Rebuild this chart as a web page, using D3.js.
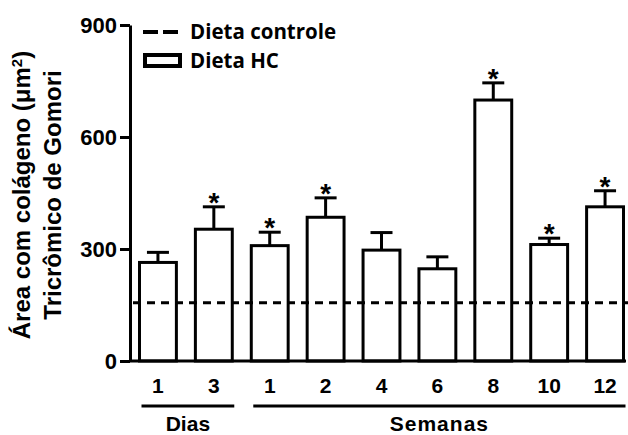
<!DOCTYPE html>
<html>
<head>
<meta charset="utf-8">
<script src="https://cdn.jsdelivr.net/npm/d3@7"></script>
<style>
  body { margin: 0; background: #fff; }
</style>
</head>
<body>
<div id="chart"></div>
<script>
// groups (x labels) and values
const labels = ["1", "3", "1", "2", "4", "6", "8", "10", "12"];
const groups = ["Dias", "Dias", "Semanas", "Semanas", "Semanas", "Semanas", "Semanas", "Semanas", "Semanas"];
const means = [264, 353, 309, 385, 297, 247, 699, 312, 413];
const sems = [27, 60, 36, 52, 47, 32, 46, 17, 43];
const signif = [false, true, true, true, false, false, true, true, true];
const controlValue = 156;
const yTicks = [0, 300, 600, 900];

const width = 628, height = 435;
const FONT = "'Liberation Sans', Arial, Helvetica, sans-serif";
const LEGEND_FONT = "'Open Sans', 'Noto Sans', sans-serif";

const svg = d3.select("#chart").append("svg")
    .attr("width", width)
    .attr("height", height);

const x = d3.scaleBand()
    .domain(d3.range(labels.length))
    .range([130, 633])
    .paddingInner(0.34)
    .paddingOuter(0.17);

const y = d3.scaleLinear()
    .domain([0, 900])
    .range([361, 25]);

// bars
svg.append("g").selectAll("rect")
    .data(means)
  .enter().append("rect")
    .attr("x", (d, i) => x(i))
    .attr("y", d => y(d))
    .attr("width", x.bandwidth())
    .attr("height", d => y(0) - y(d))
    .attr("fill", "#fff")
    .attr("stroke", "#000")
    .attr("stroke-width", 3);

// error bars (upper only)
const err = svg.append("g").attr("stroke", "#000").attr("stroke-width", 3);
means.forEach((m, i) => {
    let cx = x(i) + x.bandwidth() / 2;
    err.append("line")
        .attr("x1", cx).attr("x2", cx)
        .attr("y1", y(m)).attr("y2", y(m + sems[i]));
    err.append("line")
        .attr("x1", cx - 11).attr("x2", cx + 11)
        .attr("y1", y(m + sems[i])).attr("y2", y(m + sems[i]));
});

// asterisks
svg.append("g").selectAll("text")
    .data(means.map((m, i) => ({m, i})).filter(d => signif[d.i]))
  .enter().append("text")
    .attr("x", d => x(d.i) + x.bandwidth() / 2)
    .attr("y", d => y(d.m + sems[d.i]) + 5)
    .attr("text-anchor", "middle")
    .style("font-family", FONT)
    .style("font-weight", "bold")
    .style("font-size", "28px")
    .text("*");

// control diet line
svg.append("line")
    .attr("x1", 133).attr("x2", width)
    .attr("y1", y(controlValue)).attr("y2", y(controlValue))
    .attr("stroke", "#000")
    .attr("stroke-width", 3)
    .attr("stroke-dasharray", "8,6");

// y axis
const yAxis = svg.append("g")
    .attr("transform", "translate(130,0)")
    .call(d3.axisLeft(y).tickValues(yTicks).tickSize(10).tickPadding(3).tickSizeOuter(0));
yAxis.select(".domain").attr("stroke-width", 3);
yAxis.selectAll(".tick line").attr("stroke-width", 3);
yAxis.selectAll("text")
    .style("font-family", FONT)
    .style("font-weight", "bold")
    .style("font-size", "22px")
    .attr("fill", "#000");

// x axis
const xAxis = svg.append("g")
    .attr("transform", "translate(0,361)")
    .call(d3.axisBottom(x).tickFormat(i => labels[i]).tickSize(0).tickPadding(17));
xAxis.select(".domain").attr("d", "M130,0H626").attr("stroke-width", 3);
xAxis.selectAll("text")
    .style("font-family", FONT)
    .style("font-weight", "bold")
    .style("font-size", "21px")
    .attr("fill", "#000");

// group brackets under the x labels
const groupNames = Array.from(new Set(groups));
groupNames.forEach(g => {
    let idx = d3.range(labels.length).filter(i => groups[i] === g);
    let x0 = x(idx[0]) + 2, x1 = x(idx[idx.length - 1]) + x.bandwidth() + 2;
    svg.append("line")
        .attr("x1", x0).attr("x2", x1)
        .attr("y1", 406).attr("y2", 406)
        .attr("stroke", "#000").attr("stroke-width", 3);
    svg.append("text")
        .attr("x", (x0 + x1) / 2)
        .attr("y", 431)
        .attr("text-anchor", "middle")
        .style("font-family", FONT)
        .style("font-weight", "bold")
        .style("font-size", "21px")
        .style("letter-spacing", g === "Semanas" ? "1px" : "0px")
        .text(g);
});

// y axis title, two lines
const title = svg.append("g")
    .attr("transform", "translate(0,195) rotate(-90)")
    .style("font-family", FONT)
    .style("font-weight", "bold")
    .style("font-size", "24px");
const t1 = title.append("text")
    .attr("x", 0).attr("y", 30)
    .attr("text-anchor", "middle");
t1.append("tspan").text("Área com colágeno (μm");
t1.append("tspan").attr("baseline-shift", "super").style("font-size", "15px").text("2");
t1.append("tspan").text(")");
title.append("text")
    .attr("x", 0).attr("y", 61)
    .attr("text-anchor", "middle")
    .text("Tricrômico de Gomori");

// legend
const legend = svg.append("g")
    .style("font-family", LEGEND_FONT)
    .style("font-weight", "bold")
    .style("font-size", "20.5px");
legend.append("line")
    .attr("x1", 143).attr("x2", 179)
    .attr("y1", 32).attr("y2", 32)
    .attr("stroke", "#000").attr("stroke-width", 4)
    .attr("stroke-dasharray", "15,5");
legend.append("text")
    .attr("x", 190).attr("y", 39)
    .text("Dieta controle");
legend.append("rect")
    .attr("x", 145).attr("y", 55)
    .attr("width", 35).attr("height", 11)
    .attr("fill", "#fff")
    .attr("stroke", "#000").attr("stroke-width", 4);
legend.append("text")
    .attr("x", 190).attr("y", 68)
    .text("Dieta HC");
</script>
</body>
</html>
